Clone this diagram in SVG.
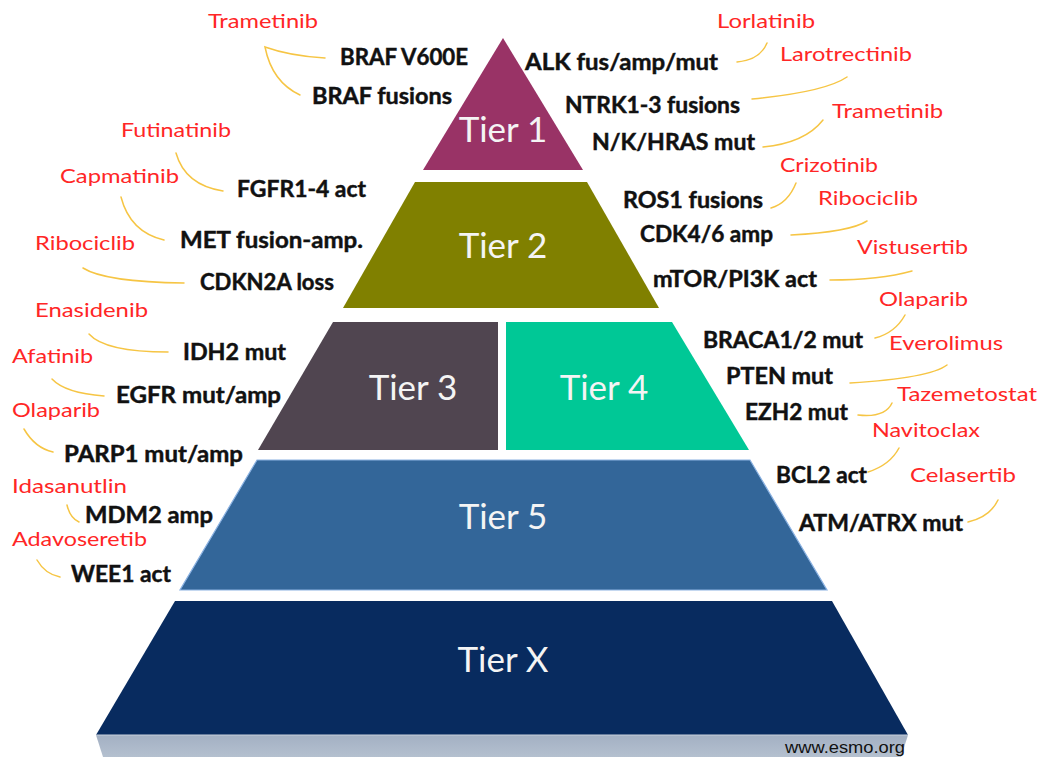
<svg xmlns="http://www.w3.org/2000/svg" width="1040" height="757" viewBox="0 0 1040 757">
  <style>
    .tier { font-family: Lato, "Open Sans", sans-serif; font-size: 35px; fill: #f4f4f4; text-anchor: middle; }
    .gene { font-family: Lato, "Open Sans", sans-serif; font-weight: bold; font-size: 22px; fill: #111; stroke: #111; stroke-width: 0.45; }
    .drug { font-family: Lato, "Open Sans", sans-serif; font-size: 20px; fill: #ff2626; }
    .link { fill: none; stroke: #f6c544; stroke-width: 1.5; stroke-linecap: round; }
    .web  { font-family: "Liberation Sans", Arial, sans-serif; font-size: 16px; fill: #111; }
  </style>
  <defs>
    <linearGradient id="mirror" x1="0" y1="0" x2="0" y2="1">
      <stop offset="0" stop-color="#a3b0c3"/>
      <stop offset="1" stop-color="#b4c0cf"/>
    </linearGradient>
  </defs>

  <rect width="1040" height="757" fill="#ffffff"/>

  <!-- pyramid tiers -->
  <g id="tier1">
    <polygon points="503,38 583,170 423,170" fill="#993366"/>
    <text class="tier" x="503" y="142">Tier 1</text>
  </g>
  <g id="tier2">
    <polygon points="415,182 587,182 659,308 343,308" fill="#808000"/>
    <text class="tier" x="503" y="258">Tier 2</text>
  </g>
  <g id="tier3">
    <polygon points="333,322 498,322 498,450 258,450" fill="#504550"/>
    <text class="tier" x="413" y="400">Tier 3</text>
  </g>
  <g id="tier4">
    <polygon points="506,322 672,322 749,450 506,450" fill="#00c896"/>
    <text class="tier" x="604" y="400">Tier 4</text>
  </g>
  <g id="tier5">
    <polygon points="257,460 750,460 827,590 180,590" fill="#336699" stroke="#8bb2e2" stroke-width="1.2"/>
    <text class="tier" x="503" y="529">Tier 5</text>
  </g>
  <g id="tierX">
    <polygon points="96,735 908,735 901,757 103,757" fill="url(#mirror)"/>
    <polygon points="175,601 832,601 908,735 96,735" fill="#082b5f"/>
    <line x1="96" y1="735" x2="908" y2="735" stroke="#c9d2de" stroke-width="1"/>
    <text class="tier" x="503" y="672">Tier X</text>
  </g>

  <!-- gene alterations -->
  <g id="genes">
    <text class="gene" x="340" y="65" textLength="128" lengthAdjust="spacingAndGlyphs">BRAF V600E</text>
    <text class="gene" x="312" y="104" textLength="140" lengthAdjust="spacingAndGlyphs">BRAF fusions</text>
    <text class="gene" x="525" y="70" textLength="193" lengthAdjust="spacingAndGlyphs">ALK fus/amp/mut</text>
    <text class="gene" x="565" y="113" textLength="175" lengthAdjust="spacingAndGlyphs">NTRK1-3 fusions</text>
    <text class="gene" x="592" y="150" textLength="163" lengthAdjust="spacingAndGlyphs">N/K/HRAS mut</text>
    <text class="gene" x="237" y="197" textLength="129" lengthAdjust="spacingAndGlyphs">FGFR1-4 act</text>
    <text class="gene" x="180" y="248" textLength="183" lengthAdjust="spacingAndGlyphs">MET fusion-amp.</text>
    <text class="gene" x="200" y="290" textLength="134" lengthAdjust="spacingAndGlyphs">CDKN2A loss</text>
    <text class="gene" x="623" y="208" textLength="140" lengthAdjust="spacingAndGlyphs">ROS1 fusions</text>
    <text class="gene" x="640" y="242" textLength="133" lengthAdjust="spacingAndGlyphs">CDK4/6 amp</text>
    <text class="gene" x="653" y="287" textLength="164" lengthAdjust="spacingAndGlyphs">mTOR/PI3K act</text>
    <text class="gene" x="183" y="360" textLength="103" lengthAdjust="spacingAndGlyphs">IDH2 mut</text>
    <text class="gene" x="116" y="403" textLength="165" lengthAdjust="spacingAndGlyphs">EGFR mut/amp</text>
    <text class="gene" x="64" y="462" textLength="179" lengthAdjust="spacingAndGlyphs">PARP1 mut/amp</text>
    <text class="gene" x="703" y="348" textLength="160" lengthAdjust="spacingAndGlyphs">BRACA1/2 mut</text>
    <text class="gene" x="726" y="384" textLength="107" lengthAdjust="spacingAndGlyphs">PTEN mut</text>
    <text class="gene" x="745" y="420" textLength="103" lengthAdjust="spacingAndGlyphs">EZH2 mut</text>
    <text class="gene" x="776" y="483" textLength="91" lengthAdjust="spacingAndGlyphs">BCL2 act</text>
    <text class="gene" x="799" y="531" textLength="164" lengthAdjust="spacingAndGlyphs">ATM/ATRX mut</text>
    <text class="gene" x="85" y="523" textLength="128" lengthAdjust="spacingAndGlyphs">MDM2 amp</text>
    <text class="gene" x="71" y="582" textLength="100" lengthAdjust="spacingAndGlyphs">WEE1 act</text>
  </g>

  <!-- targeted drugs -->
  <g id="drugs">
    <text class="drug" x="208" y="28" textLength="110" lengthAdjust="spacingAndGlyphs">Trametinib</text>
    <text class="drug" x="717" y="28" textLength="98" lengthAdjust="spacingAndGlyphs">Lorlatinib</text>
    <text class="drug" x="780" y="61" textLength="132" lengthAdjust="spacingAndGlyphs">Larotrectinib</text>
    <text class="drug" x="832" y="118" textLength="111" lengthAdjust="spacingAndGlyphs">Trametinib</text>
    <text class="drug" x="780" y="172" textLength="98" lengthAdjust="spacingAndGlyphs">Crizotinib</text>
    <text class="drug" x="121" y="137" textLength="110" lengthAdjust="spacingAndGlyphs">Futinatinib</text>
    <text class="drug" x="60" y="183" textLength="119" lengthAdjust="spacingAndGlyphs">Capmatinib</text>
    <text class="drug" x="35" y="250" textLength="100" lengthAdjust="spacingAndGlyphs">Ribociclib</text>
    <text class="drug" x="818" y="205" textLength="100" lengthAdjust="spacingAndGlyphs">Ribociclib</text>
    <text class="drug" x="857" y="254" textLength="111" lengthAdjust="spacingAndGlyphs">Vistusertib</text>
    <text class="drug" x="879" y="306" textLength="89" lengthAdjust="spacingAndGlyphs">Olaparib</text>
    <text class="drug" x="889" y="350" textLength="114" lengthAdjust="spacingAndGlyphs">Everolimus</text>
    <text class="drug" x="897" y="401" textLength="140" lengthAdjust="spacingAndGlyphs">Tazemetostat</text>
    <text class="drug" x="872" y="437" textLength="108" lengthAdjust="spacingAndGlyphs">Navitoclax</text>
    <text class="drug" x="910" y="482" textLength="106" lengthAdjust="spacingAndGlyphs">Celasertib</text>
    <text class="drug" x="35" y="317" textLength="113" lengthAdjust="spacingAndGlyphs">Enasidenib</text>
    <text class="drug" x="12" y="363" textLength="81" lengthAdjust="spacingAndGlyphs">Afatinib</text>
    <text class="drug" x="12" y="417" textLength="88" lengthAdjust="spacingAndGlyphs">Olaparib</text>
    <text class="drug" x="12" y="493" textLength="115" lengthAdjust="spacingAndGlyphs">Idasanutlin</text>
    <text class="drug" x="12" y="546" textLength="135" lengthAdjust="spacingAndGlyphs">Adavoseretib</text>
  </g>

  <!-- connectors between alterations and drugs -->
  <g id="connectors">
    <path class="link" d="M325,58 Q290,56 265,47 Q272,82 300,95"/>
    <path class="link" d="M737,62 Q760,60 767,43"/>
    <path class="link" d="M752,99 Q825,92 847,77"/>
    <path class="link" d="M763,147 Q805,143 823,120"/>
    <path class="link" d="M176,153 Q185,185 223,191"/>
    <path class="link" d="M121,197 Q130,232 164,240"/>
    <path class="link" d="M83,268 Q105,282 184,283"/>
    <path class="link" d="M771,208 Q788,203 796,183"/>
    <path class="link" d="M791,235 Q850,232 867,221"/>
    <path class="link" d="M830,280 Q880,280 912,271"/>
    <path class="link" d="M89,334 Q105,352 168,352"/>
    <path class="link" d="M52,379 Q65,393 104,396"/>
    <path class="link" d="M24,429 Q35,448 53,452"/>
    <path class="link" d="M875,338 Q895,333 905,315"/>
    <path class="link" d="M850,383 Q930,378 947,365"/>
    <path class="link" d="M858,415 Q885,418 892,403"/>
    <path class="link" d="M868,472 Q890,465 899,448"/>
    <path class="link" d="M968,522 Q990,517 998,500"/>
    <path class="link" d="M67,505 Q70,518 79,522"/>
    <path class="link" d="M37,560 Q45,574 60,577"/>
  </g>

  <text class="web" x="785" y="753" textLength="120" lengthAdjust="spacingAndGlyphs">www.esmo.org</text>
</svg>
